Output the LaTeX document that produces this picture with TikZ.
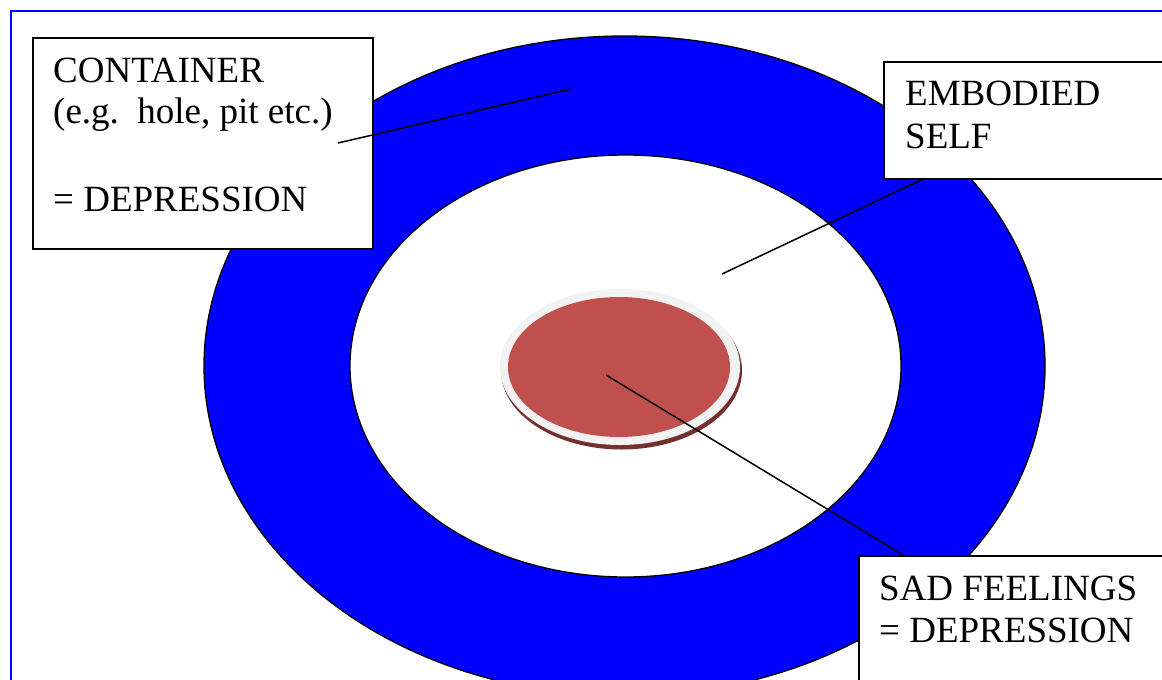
\documentclass[tikz,border=0pt]{standalone}
\usepackage{fontspec}
\setmainfont{Liberation Serif}
\usetikzlibrary{shapes.geometric}
\definecolor{ringgrey}{HTML}{F2F2F2}
\definecolor{sadred}{HTML}{C0504D}
\definecolor{shadowred}{HTML}{74302D}
\tikzset{
  lbl/.style={anchor=base west, inner sep=0pt, font=\fontsize{37}{43}\selectfont},
  callout/.style={draw=black, line width=1.8pt, fill=white, anchor=north west, inner sep=0pt},
  ring/.style={ellipse, inner sep=0pt, draw=black, line width=1.3pt},
  disc/.style={ellipse, inner sep=0pt},
  leader/.style={draw=black, line width=1.5pt}
}
\begin{document}
\begin{tikzpicture}[x=1pt,y=-1pt]
\useasboundingbox (0,0) rectangle (1162,680);
\clip (0,0) rectangle (1162,680);
\fill[white] (0,0) rectangle (1162,680);
% frame
\draw[blue, line width=1.8pt] (11,700) -- (11,11) -- (1180,11);
% rings
\node[ring, fill=blue, minimum width=841pt, minimum height=660pt] (outer) at (624.5,366) {};
\node[ring, fill=white, minimum width=551pt, minimum height=422pt] (inner) at (625.5,366) {};
% central disc
\node[disc, fill=shadowred, minimum width=241pt, minimum height=158pt] (shadow) at (621.5,370.5) {};
\node[disc, fill=ringgrey, minimum width=240pt, minimum height=156pt] (greyring) at (620,367) {};
\node[disc, fill=sadred, minimum width=222pt, minimum height=140pt] (sad) at (619,367) {};
% callout boxes
\node[callout, minimum width=340pt, minimum height=211pt] (contbox) at (32,37) {};
\node[lbl] (c1) at (53,82) {CONTAINER};
\node[lbl] (c2) at (53,123) {(e.g.\ \ hole, pit etc.)};
\node[lbl] (c3) at (53,211) {= DEPRESSION};
\node[callout, minimum width=320pt, minimum height=117pt] (embbox) at (883,61) {};
\node[lbl] (e1) at (905,105) {EMBODIED};
\node[lbl] (e2) at (905,148) {SELF};
\node[callout, minimum width=330pt, minimum height=150pt] (sadbox) at (858,555) {};
\node[lbl] (s1) at (879,600) {SAD FEELINGS};
\node[lbl] (s2) at (879,642) {= DEPRESSION};
% leader lines
\coordinate (contTail) at (338,143);
\coordinate (contTip) at (571,89);
\coordinate (embTail) at (923,179);
\coordinate (embTip) at (722,274);
\coordinate (sadTail) at (903,555);
\coordinate (sadTip) at (606,375);
\draw[leader] (contTail) -- (contTip);
\draw[leader] (embTail) -- (embTip);
\draw[leader] (sadTail) -- (sadTip);
\end{tikzpicture}
\end{document}
